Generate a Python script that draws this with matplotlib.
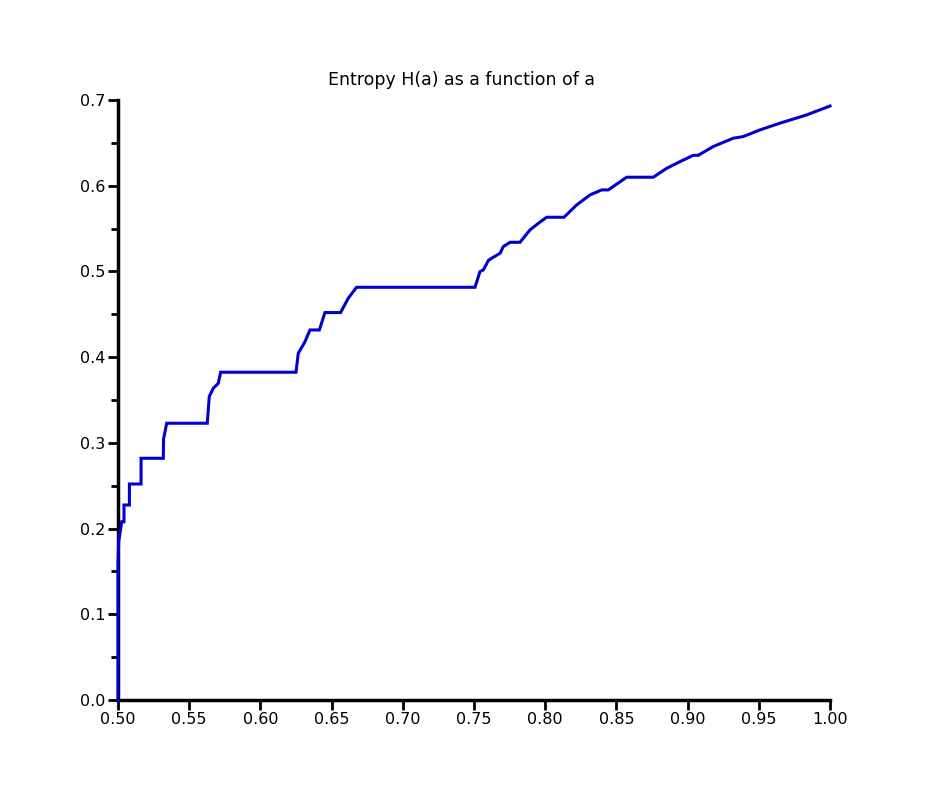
#### Entropy H(a) as a function of a ####
import numpy as np
import matplotlib.pyplot as plt
from matplotlib.ticker import MultipleLocator, FormatStrFormatter

# curve (a, H(a)) - step-like polyline
a_vals = [0.5000, 0.5000, 0.5005, 0.5026, 0.5042, 0.5042, 0.5080, 0.5080,
          0.5162, 0.5162, 0.5318, 0.5320, 0.5342, 0.5627, 0.5641, 0.5669,
          0.5704, 0.5721, 0.6250, 0.6266, 0.6313, 0.6348, 0.6414, 0.6453,
          0.6563, 0.6617, 0.6675, 0.7507, 0.7542, 0.7566, 0.7600, 0.7624,
          0.7683, 0.7706, 0.7753, 0.7823, 0.7893, 0.7952, 0.8010, 0.8132,
          0.8221, 0.8315, 0.8397, 0.8443, 0.8572, 0.8759, 0.8853, 0.8947,
          0.9040, 0.9075, 0.9180, 0.9320, 0.9390, 0.9508, 0.9649, 0.9836,
          1.0000]
h_vals = [0.0000, 0.1600, 0.1850, 0.2080, 0.2080, 0.2275, 0.2275, 0.2520,
          0.2520, 0.2820, 0.2820, 0.3045, 0.3229, 0.3229, 0.3540, 0.3637,
          0.3694, 0.3824, 0.3824, 0.4045, 0.4180, 0.4317, 0.4317, 0.4520,
          0.4520, 0.4687, 0.4815, 0.4815, 0.4998, 0.5018, 0.5126, 0.5154,
          0.5212, 0.5290, 0.5340, 0.5340, 0.5484, 0.5562, 0.5632, 0.5632,
          0.5776, 0.5893, 0.5951, 0.5951, 0.6099, 0.6099, 0.6203, 0.6281,
          0.6355, 0.6355, 0.6457, 0.6554, 0.6573, 0.6651, 0.6730, 0.6826,
          0.6930]

fig = plt.figure(figsize=(9.5, 8), dpi=100)
ax = fig.add_axes([118 / 950, 100 / 800, 712 / 950, 600 / 800])

# line drawn above the spines, like the reference
ax.plot(a_vals, h_vals, color='#0000d0', linewidth=2.2, solid_joinstyle='miter',
        zorder=5, clip_on=False)

ax.set_xlim(0.5, 1.0)
ax.set_ylim(0.0, 0.7)
ax.xaxis.set_major_locator(MultipleLocator(0.05))
ax.yaxis.set_major_locator(MultipleLocator(0.1))
ax.yaxis.set_minor_locator(MultipleLocator(0.05))
ax.xaxis.set_major_formatter(FormatStrFormatter('%.2f'))
ax.yaxis.set_major_formatter(FormatStrFormatter('%.1f'))

for side in ['top', 'right']:
    ax.spines[side].set_visible(False)
for side in ['left', 'bottom']:
    ax.spines[side].set_linewidth(2.5)
    ax.spines[side].set_zorder(2)

ax.tick_params(axis='both', which='major', direction='out', length=7, width=2,
               labelsize=11.5, pad=2)
ax.tick_params(axis='y', which='minor', direction='out', length=5, width=2)

fig.text(461 / 950, 1 - 80 / 800, 'Entropy H(a) as a function of a',
         ha='center', va='center', fontsize=12.5)

plt.savefig('out.png', dpi=100)
